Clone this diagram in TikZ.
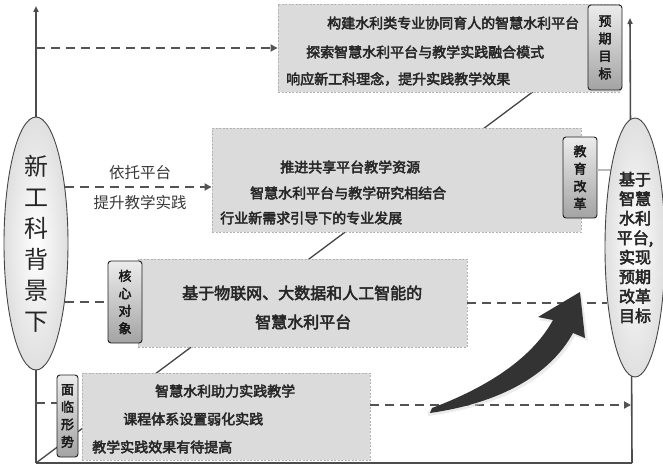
\documentclass[tikz,border=0pt]{standalone}
\usepackage{fontspec}
\setmainfont[AutoFakeBold=3]{Noto Sans CJK SC}
\usetikzlibrary{arrows.meta,shapes.geometric,calc}
\begin{document}
\begin{tikzpicture}[x=1pt,y=-1pt,
  axisline/.style={draw=gray!60!black, line width=1.6pt},
  diag/.style={draw=gray!55!black, line width=1.3pt},
  dashc/.style={draw=gray!65!black, line width=2.3pt, dash pattern=on 9pt off 6pt},
  tipd/.style={-{Triangle[length=7pt,width=7pt]}},
  box/.style={draw=gray!60, dash pattern=on 2pt off 1.5pt, line width=0.9pt, fill=gray!28, inner sep=0pt},
  tag/.style={draw=gray!25!black, rounded corners=3pt, top color=gray!15, bottom color=gray!72, line width=0.9pt, inner sep=0pt, align=center, font=\bfseries\fontsize{13}{17.5}\selectfont, text=black!90},
  btxt/.style={anchor=west, inner sep=0pt, font=\bfseries\fontsize{14}{14}\selectfont, text=black!85},
  oval/.style={ellipse, draw=gray!55!black, line width=0.9pt, inner color=white, outer color=gray!25, inner sep=0pt, align=center}
]
\useasboundingbox (0,0) rectangle (663,468);
\fill[white] (0,0) rectangle (663,468);

% axes
\coordinate (o) at (36,463);
\coordinate (ltop) at (36,6);
\coordinate (rb) at (632,463);
\coordinate (rtop) at (630,18);
\draw[axisline,-{Triangle[length=6pt,width=5pt]}] (o) -- (ltop);
\draw[axisline,-{Triangle[length=6pt,width=5pt]}] (rb) -- (rtop);
\draw[axisline] (o) -- (rb);

% diagonal
\coordinate (dend) at (562,70);
\draw[diag] (o) -- (dend);

% coordinates for connectors
\coordinate (ax1) at (36,48);
\coordinate (e2) at (65,187);
\coordinate (e3) at (65,302);
\coordinate (e4) at (607,303);
\coordinate (ax5) at (36,403);
\coordinate (ax6) at (631,405);
\coordinate (e7) at (611,170);

% boxes
\node[box, minimum width=342, minimum height=88] (box1) at (449,48) {};
\node[box, minimum width=369, minimum height=104] (box2) at (396.5,180) {};
\node[box, minimum width=329, minimum height=88] (box3) at (302.5,303) {};
\node[box, minimum width=288, minimum height=87] (box4) at (226,416.5) {};

% connectors
\draw[dashc,tipd] (ax1) -- (box1.west);
\draw[dashc,tipd] (e2) -- (e2 -| box2.west);
\draw[dashc] (box3.east) -- (e4);
\draw[dashc,tipd] (box4.east |- ax6) -- (ax6);

% box texts
\node[btxt] (t11) at (327,23) {构建水利类专业协同育人的智慧水利平台};
\node[btxt] (t12) at (306,52) {探索智慧水利平台与教学实践融合模式};
\node[btxt] (t13) at (286,79) {响应新工科理念，提升实践教学效果};

\node[btxt] (t21) at (280,167) {推进共享平台教学资源};
\node[btxt] (t22) at (250,193) {智慧水利平台与教学研究相结合};
\node[btxt] (t23) at (220,218) {行业新需求引导下的专业发展};

\node[btxt, font=\bfseries\fontsize{16}{16}\selectfont] (t31) at (182,293) {基于物联网、大数据和人工智能的};
\node[btxt, font=\bfseries\fontsize{16}{16}\selectfont] (t32) at (255,322) {智慧水利平台};

\node[btxt] (t41) at (155,391) {智慧水利助力实践教学};
\node[btxt] (t42) at (123,419) {课程体系设置弱化实践};
\node[btxt] (t43) at (92,447) {教学实践效果有待提高};

% side label
\node[inner sep=0pt, font=\fontsize{15.5}{15.5}\selectfont, text=gray!45!black] (s1) at (140,173) {依托平台};
\node[inner sep=0pt, font=\fontsize{15.5}{15.5}\selectfont, text=gray!45!black] (s2) at (140,203) {提升教学实践};

% tags
\node[tag, minimum width=34, minimum height=85] (L1) at (605,47.5) {预\\期\\目\\标};
\node[tag, minimum width=34, minimum height=81] (L2) at (580,177.5) {教\\育\\改\\革};
\node[tag, minimum width=34, minimum height=82] (L3) at (125,302) {核\\心\\对\\象};
\node[tag, minimum width=21, minimum height=82] (L4) at (67.5,416) {面\\临\\形\\势};

\draw[dashc] (e3) -- (L3.west |- e3);
\draw[dashc] (ax5) -- (ax5 -| L4.west);
\draw[axisline, line width=2.2pt, draw=gray!55] (L2.east |- e7) -- (e7);

% ovals
\node[oval, minimum width=64, minimum height=253, font=\fontsize{24}{31}\selectfont, text=black!85] (lell) at (36,243.5) {新\\工\\科\\背\\景\\下};
\node[oval, minimum width=60, minimum height=259, font=\bfseries\fontsize{16}{19.5}\selectfont, text=black!85] (rell) at (635,247.5) {基于\\智慧\\水利\\平台,\\实现\\预期\\改革\\目标};

% big curved arrow
\fill[gray!30, opacity=0.5] (428,411) .. controls (480,394) and (532,366) .. (555,323)
  -- (539,320) -- (582,295) -- (588,341) -- (575,336)
  .. controls (552,378) and (502,406) .. (428,416) -- cycle;
\fill[gray!40!black] (432,408) .. controls (480,390) and (530,362) .. (553,320)
  -- (538,317) -- (580,292) -- (585,338) -- (573,333)
  .. controls (550,375) and (500,403) .. (430,413) -- cycle;
\end{tikzpicture}
\end{document}
